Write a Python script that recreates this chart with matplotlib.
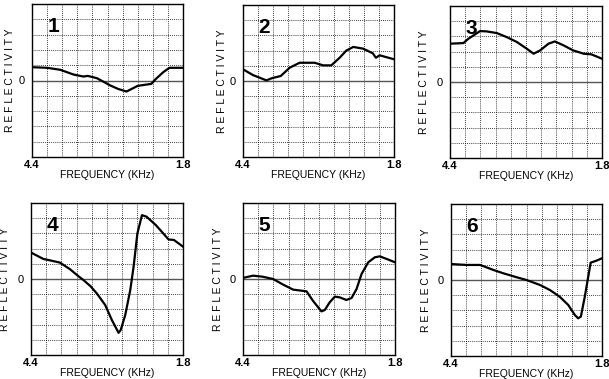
import matplotlib
matplotlib.use("Agg")
import matplotlib.pyplot as plt

plt.rcParams['font.family'] = ['Liberation Sans', 'DejaVu Sans']

# grid units: x 0..10 across (4.4 -> 1.8 kHz), y -5..5 (0 in the middle)
x1 = [0, 1, 1.87, 2.75, 3.4, 3.7, 4.3, 5.2, 5.7, 6.26, 6.5, 7.0, 7.9, 8.2, 8.7, 9.1, 10]
y1 = [0.87, 0.83, 0.7, 0.39, 0.26, 0.3, 0.15, -0.33, -0.55, -0.72, -0.6, -0.35, -0.22, 0.1, 0.55, 0.83, 0.83]

x2 = [0, 0.66, 1.55, 1.9, 2.5, 3.1, 3.75, 4.75, 5.3, 5.85, 6.4, 6.84, 7.3, 7.95, 8.6, 8.8, 9.05, 10]
y2 = [0.77, 0.39, 0.04, 0.18, 0.33, 0.88, 1.2, 1.2, 1.03, 1.03, 1.53, 2.0, 2.24, 2.13, 1.82, 1.53, 1.69, 1.43]

x3 = [0, 0.88, 1.2, 1.98, 2.4, 3.08, 3.74, 4.4, 5.05, 5.5, 5.93, 6.48, 6.9, 7.47, 8.1, 8.8, 9.3, 10]
y3 = [2.52, 2.56, 2.84, 3.35, 3.33, 3.22, 2.95, 2.63, 2.19, 1.86, 2.08, 2.52, 2.67, 2.41, 2.08, 1.86, 1.82, 1.53]

x4 = [0, 0.81, 1.14, 1.9, 2.57, 3.1, 3.45, 3.9, 4.33, 4.88, 5.32, 5.76, 5.9, 6.2, 6.53, 6.75,
      7.0, 7.3, 7.6, 8.2, 8.7, 9.05, 9.4, 10]
y4 = [1.74, 1.32, 1.25, 1.08, 0.64, 0.2, -0.07, -0.46, -0.95, -1.71, -2.7, -3.54, -3.36, -2.37,
      -0.73, 0.81, 3.0, 4.2, 4.1, 3.56, 3.0, 2.6, 2.57, 2.13]

x5 = [0, 0.66, 1.3, 1.98, 2.64, 3.3, 4.18, 4.6, 5.16, 5.38, 5.7, 6.04, 6.37, 6.8, 7.14, 7.47,
      7.8, 8.24, 8.68, 9.0, 9.45, 10]
y5 = [0.07, 0.22, 0.15, 0.0, -0.37, -0.7, -0.81, -1.43, -2.13, -2.04, -1.54, -1.16, -1.21, -1.38,
      -1.25, -0.66, 0.33, 1.1, 1.43, 1.49, 1.32, 1.1]

x6 = [0, 1.05, 1.93, 2.81, 3.47, 4.35, 5.0, 5.9, 6.55, 7.2, 7.76, 8.2, 8.42, 8.6, 8.86, 9.25, 9.63, 10]
y6 = [1.05, 0.99, 0.99, 0.66, 0.44, 0.18, 0.0, -0.33, -0.66, -1.1, -1.64, -2.3, -2.52, -2.41,
      -1.1, 1.14, 1.27, 1.43]

panels = ['1', '2', '3', '4', '5', '6']
series = [(x1, y1), (x2, y2), (x3, y3), (x4, y4), (x5, y5), (x6, y6)]
xtick_labels = ['4.4', '1.8']

W, H = 609, 379
# axes boxes in pixels: left, top, right, bottom ; ylabel x centre
boxes = [(32, 4, 183, 157, 10), (243, 5, 394, 157, 222), (450, 6, 602, 158, 424),
         (31, 203, 183, 355, 5), (243, 203, 395, 355, 218), (451, 204, 602, 356, 426)]

fig = plt.figure(figsize=(W / 100, H / 100), dpi=100)

for name, (xs, ys), (l, t, r, b, yl) in zip(panels, series, boxes):
    ax = fig.add_axes([l / W, (H - b) / H, (r - l) / W, (b - t) / H])
    ax.set_xlim(0, 10)
    ax.set_ylim(-5, 5)
    for k in range(1, 10):
        ax.axvline(k, color='black', lw=0.6, ls=(0, (1, 1.5)), zorder=1)
    for k in range(-4, 5):
        if k != 0:
            ax.axhline(k, color='black', lw=0.6, ls=(0, (1, 1.5)), zorder=1)
    ax.axhline(0, color='#555555', lw=1.0, zorder=2)
    ax.plot(xs, ys, color='black', lw=1.6, zorder=3)
    ax.text(1.4, 3.5, name, fontsize=15, fontweight='bold', ha='center', va='center', zorder=4)
    ax.set_xticks([0, 10])
    ax.set_xticklabels(xtick_labels, fontsize=8, fontweight='bold')
    ax.set_yticks([0])
    ax.set_yticklabels(['0'], fontsize=8)
    ax.tick_params(axis='x', length=0, pad=2)
    ax.tick_params(axis='y', length=0, pad=5)
    ax.set_xlabel('FREQUENCY (KHz)', fontsize=7.5, labelpad=0.5)
    for s in ax.spines.values():
        s.set_linewidth(1.0)
    fig.text(yl / W, 1 - (t + b) / 2 / H, 'R E F L E C T I V I T Y', rotation=90,
             fontsize=7.5, ha='center', va='center')

fig.savefig('out.png', dpi=100)
